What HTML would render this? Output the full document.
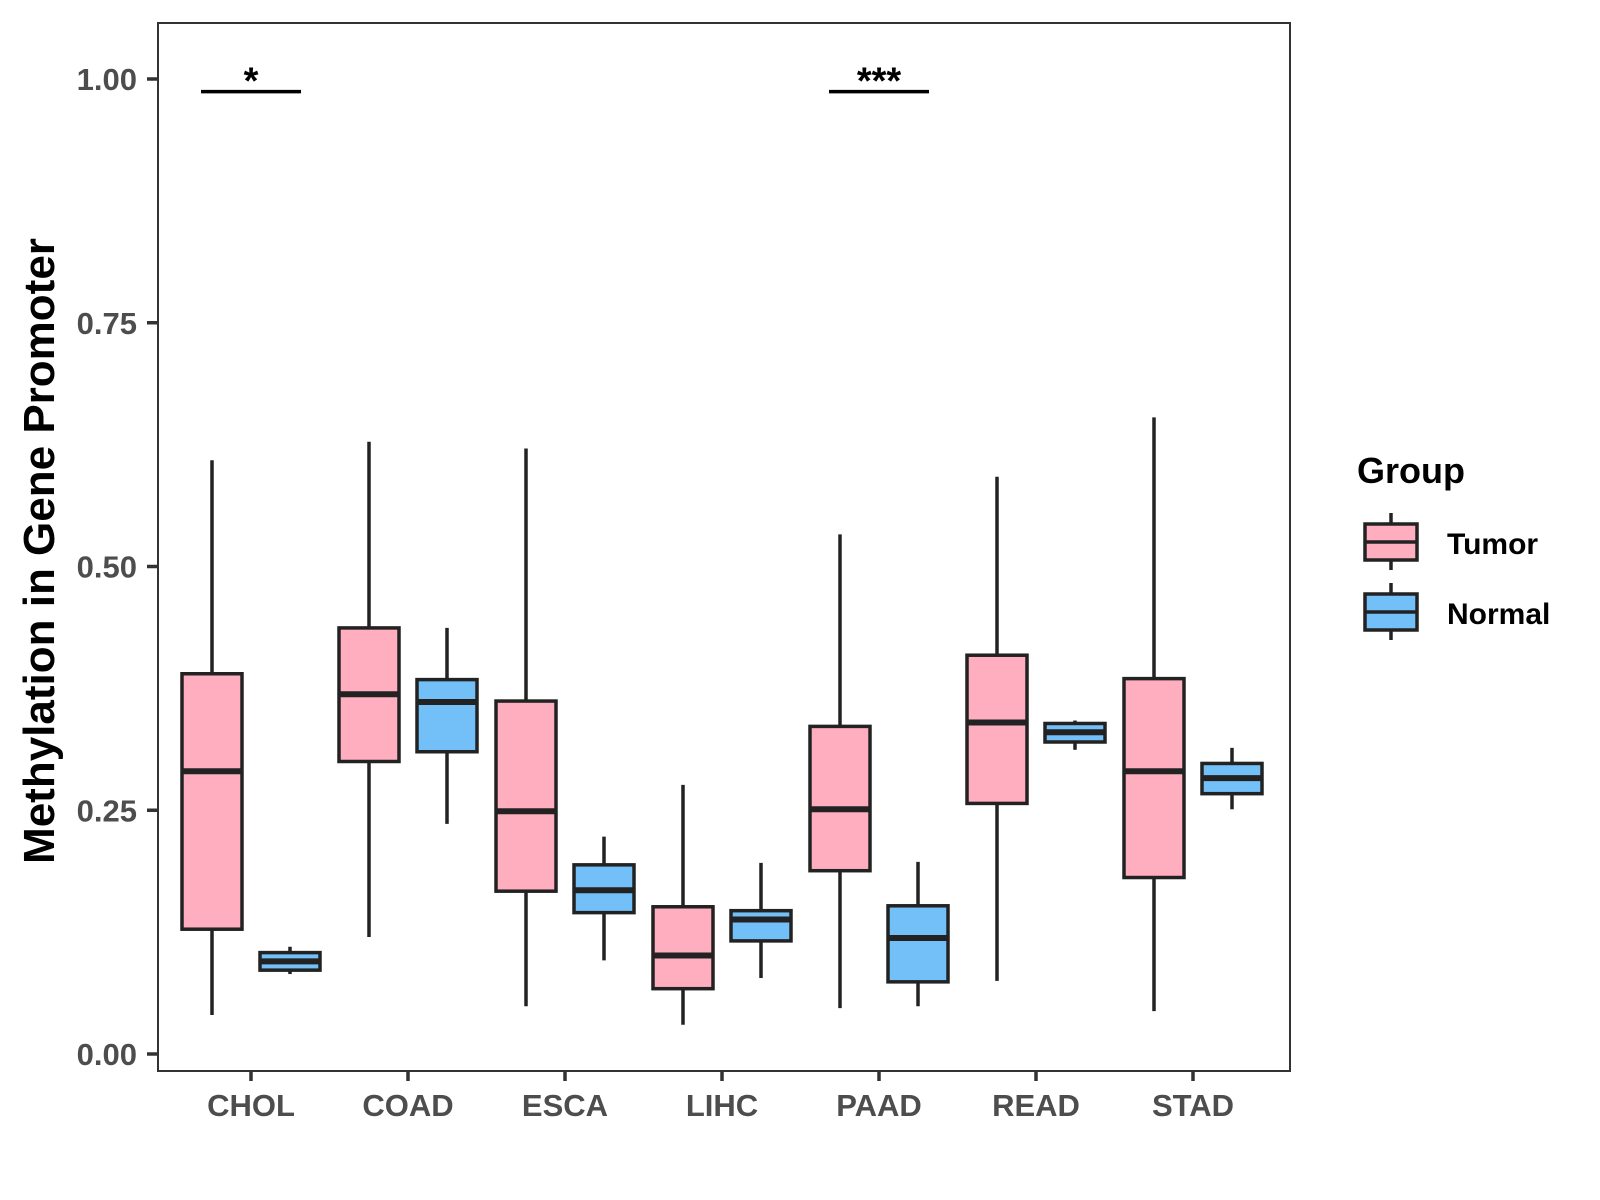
<!DOCTYPE html>
<html><head><meta charset="utf-8"><style>
html,body{margin:0;padding:0;background:#fff;}
svg{display:block;font-family:"Liberation Sans",Arial,sans-serif;}
</style></head><body>
<svg id="chart" width="1600" height="1200" viewBox="0 0 1600 1200" xmlns="http://www.w3.org/2000/svg">
<rect x="0" y="0" width="1600" height="1200" fill="#fff"/>
<g id="marks"></g>
<rect x="158" y="23" width="1132" height="1048" fill="none" stroke="#333" stroke-width="2"/>
<g id="axes"></g>
<text transform="translate(54,551) rotate(-90)" text-anchor="middle" font-size="44" font-weight="bold" fill="#000">Methylation in Gene Promoter</text>
<g>
<text x="1357" y="483" font-size="36" font-weight="bold" fill="#000">Group</text>
<g>
<line x1="1391" y1="513" x2="1391" y2="570" stroke="#222" stroke-width="3.5"/>
<rect x="1365" y="524" width="52" height="36" fill="#FFAEC0" stroke="#222" stroke-width="3.5"/>
<line x1="1365" y1="542" x2="1417" y2="542" stroke="#222" stroke-width="3.5"/>
<text x="1447" y="554" font-size="30" font-weight="bold" fill="#000">Tumor</text>
</g>
<g>
<line x1="1391" y1="583" x2="1391" y2="640" stroke="#222" stroke-width="3.5"/>
<rect x="1365" y="594" width="52" height="36" fill="#73BFF8" stroke="#222" stroke-width="3.5"/>
<line x1="1365" y1="612" x2="1417" y2="612" stroke="#222" stroke-width="3.5"/>
<text x="1447" y="624" font-size="30" font-weight="bold" fill="#000">Normal</text>
</g>
</g>
</svg>
<script>
const categories = ["CHOL","COAD","ESCA","LIHC","PAAD","READ","STAD"];
// [whiskerLow, Q1, median, Q3, whiskerHigh]
const tumorStats = [
 [0.040,0.128,0.290,0.390,0.609],
 [0.120,0.300,0.369,0.437,0.628],
 [0.049,0.167,0.249,0.362,0.621],
 [0.030,0.067,0.101,0.151,0.276],
 [0.047,0.188,0.251,0.336,0.533],
 [0.075,0.257,0.340,0.409,0.592],
 [0.044,0.181,0.290,0.385,0.653]
];
const normalStats = [
 [0.082,0.086,0.095,0.104,0.110],
 [0.236,0.310,0.361,0.384,0.437],
 [0.096,0.145,0.168,0.194,0.223],
 [0.078,0.116,0.138,0.147,0.196],
 [0.049,0.074,0.119,0.152,0.197],
 [0.312,0.320,0.330,0.339,0.342],
 [0.251,0.267,0.283,0.298,0.314]
];
const yTicks = [0,0.25,0.5,0.75,1.0];
const yTickLabels = ["0.00","0.25","0.50","0.75","1.00"];
const sigCategories = ["CHOL","PAAD"];
const sigLabels = ["*","***"];
const sigLevel = 0.987;

const NS="http://www.w3.org/2000/svg";
const yScale = v => 1054 - 975*v;
const xScale = i => 251 + 157*i;
const marks = document.getElementById('marks');
const axes = document.getElementById('axes');
function mk(tag, attrs, parent){const e=document.createElementNS(NS,tag);for(const k in attrs)e.setAttribute(k,attrs[k]);parent.appendChild(e);return e;}

function drawBox(cx, s, fill, name){
  const g = mk('g',{},marks);
  
  
  const hw=30;
  mk('line',{x1:cx,x2:cx,y1:yScale(s[0]),y2:yScale(s[4]),stroke:'#222','stroke-width':3.5},g);
  mk('rect',{x:cx-hw,y:yScale(s[3]),width:2*hw,height:yScale(s[1])-yScale(s[3]),fill:fill,stroke:'#222','stroke-width':3.5},g);
  mk('line',{x1:cx-hw,x2:cx+hw,y1:yScale(s[2]),y2:yScale(s[2]),stroke:'#222','stroke-width':6},g);
}
categories.forEach((c,i)=>{
  drawBox(xScale(i)-39, tumorStats[i], '#FFAEC0', 'box-tumor-'+c.toLowerCase());
  drawBox(xScale(i)+39, normalStats[i], '#73BFF8', 'box-normal-'+c.toLowerCase());
  const t = mk('line',{x1:xScale(i),x2:xScale(i),y1:1071,y2:1081,stroke:'#333','stroke-width':3.5},axes);
  
  
  const l = mk('text',{x:xScale(i),y:1116,'text-anchor':'middle','font-size':31,'font-weight':'bold',fill:'#4d4d4d'},axes);
  l.textContent=c;
  
  
});
yTicks.forEach((v,i)=>{
  const t = mk('line',{x1:147,x2:158,y1:yScale(v),y2:yScale(v),stroke:'#333','stroke-width':3.5},axes);
  
  
  const l = mk('text',{x:137,y:yScale(v)+11,'text-anchor':'end','font-size':31,'font-weight':'bold',fill:'#4d4d4d'},axes);
  l.textContent=yTickLabels[i];
  
  
});
sigCategories.forEach((c,k)=>{
  const i = categories.indexOf(c);
  const y = yScale(sigLevel);
  const ln = mk('line',{x1:xScale(i)-50,x2:xScale(i)+50,y1:y,y2:y,stroke:'#000','stroke-width':3.5},marks);
  
  
  const tx = mk('text',{x:xScale(i),y:y+2,'text-anchor':'middle','font-size':38,'font-weight':'bold',fill:'#000'},marks);
  tx.textContent = sigLabels[k];
  
  
});
</script>
</body></html>
